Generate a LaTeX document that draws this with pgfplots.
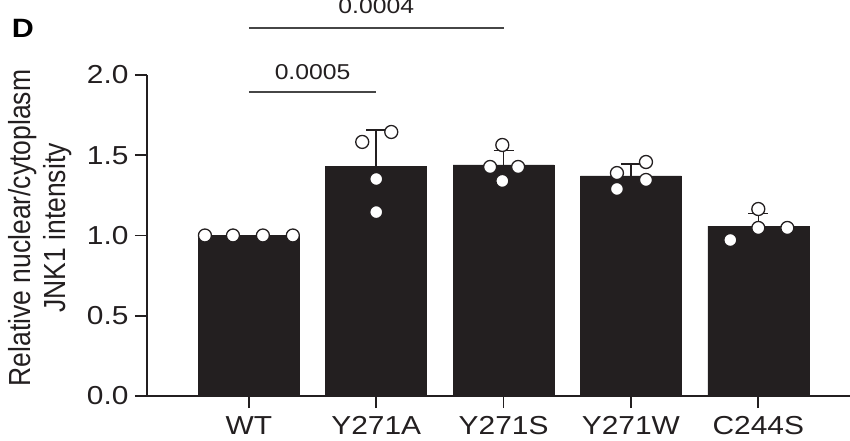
\documentclass[border=0pt]{standalone}
\usepackage{fontspec}
\setmainfont{Liberation Sans}[FakeStretch=1.15]
\newfontfamily\plainfont{Liberation Sans}
\usepackage{pgfplots}
\pgfplotsset{compat=1.18}
\usetikzlibrary{calc}
\definecolor{barblack}{RGB}{35,31,32}
\definecolor{sigline}{RGB}{70,70,70}
\begin{document}
\begin{tikzpicture}
\begin{axis}[
  name=ax,
  at={(0,0)}, anchor=south west,
  scale only axis,
  width=703pt, height=321pt,
  xmin=-0.8, xmax=4.72, ymin=0, ymax=2,
  axis x line*=bottom, axis y line*=left,
  axis line style={line width=1.8pt, draw=barblack, -},
  xtick={0,1,2,3,4},
  xticklabels={WT,Y271A,Y271S,Y271W,C244S},
  ytick={0,0.5,1,1.5,2},
  /pgf/number format/assume math mode=true,
  y tick label style={/pgf/number format/.cd, fixed, fixed zerofill, precision=1, /tikz/.cd, xshift=-3pt},
  x tick label style={yshift=-5pt},
  tick align=outside,
  major tick length=12pt,
  tick style={line width=1.8pt, draw=barblack},
  tick label style={font=\fontsize{26}{30}\selectfont, text=barblack},
  clip=false,
]
\addplot[ybar, bar width=101pt, fill=barblack, draw=barblack, line width=0.5pt,
  error bars/.cd, y dir=plus, y explicit,
  error bar style={line width=1.6pt, draw=barblack},
  error mark options={rotate=90, mark size=10pt, line width=1.6pt, draw=barblack}]
  coordinates {
  (0,1.0) +- (0,0)
  (1,1.43) +- (0,0.227)
  (2,1.44) +- (0,0.09)
  (3,1.371) +- (0,0.074)
  (4,1.058) +- (0,0.078)
  };
\addplot[only marks, mark=*, mark size=6.5pt,
  mark options={fill=white, draw=barblack, line width=1.3pt}]
  coordinates {
  (-0.345,1.0) (-0.125,1.0) (0.11,1.0) (0.345,1.0)
  (0.89,1.583) (1.118,1.645) (1.0,1.352) (1.0,1.146)
  (1.99,1.564) (1.894,1.427) (2.114,1.427) (1.99,1.34)
  (2.89,1.389) (3.118,1.458) (2.89,1.29) (3.118,1.346)
  (3.78,0.972) (4.0,1.047) (4.228,1.047) (4.0,1.165)
  };
\draw[sigline, line width=1.6pt] (axis cs:0,1.894) -- (axis cs:1,1.894);
\draw[sigline, line width=1.6pt] (axis cs:0,2.293) -- (axis cs:2,2.293);
\node[anchor=base, font=\fontsize{21.5}{26}\selectfont, text=barblack] at (axis cs:0.5,1.975) {0.0005};
\node[anchor=base, font=\fontsize{21.5}{26}\selectfont, text=barblack] at (axis cs:1,2.386) {0.0004};
\end{axis}
\node[font=\plainfont\fontsize{26.5}{30.5}\selectfont, text=barblack, align=center, xscale=1.15, rotate=90, transform shape]
  at ($(ax.south west)+(-107pt,168pt)$) {Relative nuclear/cytoplasm\\JNK1 intensity};
\node[font=\bfseries\fontsize{26.5}{30}\selectfont, text=black] at ($(ax.south west)+(-124pt,368pt)$) {D};
\pgfresetboundingbox
\path[use as bounding box] ($(ax.south west)+(-147pt,-44pt)$) rectangle ($(ax.south west)+(703pt,396pt)$);
\end{tikzpicture}
\end{document}
